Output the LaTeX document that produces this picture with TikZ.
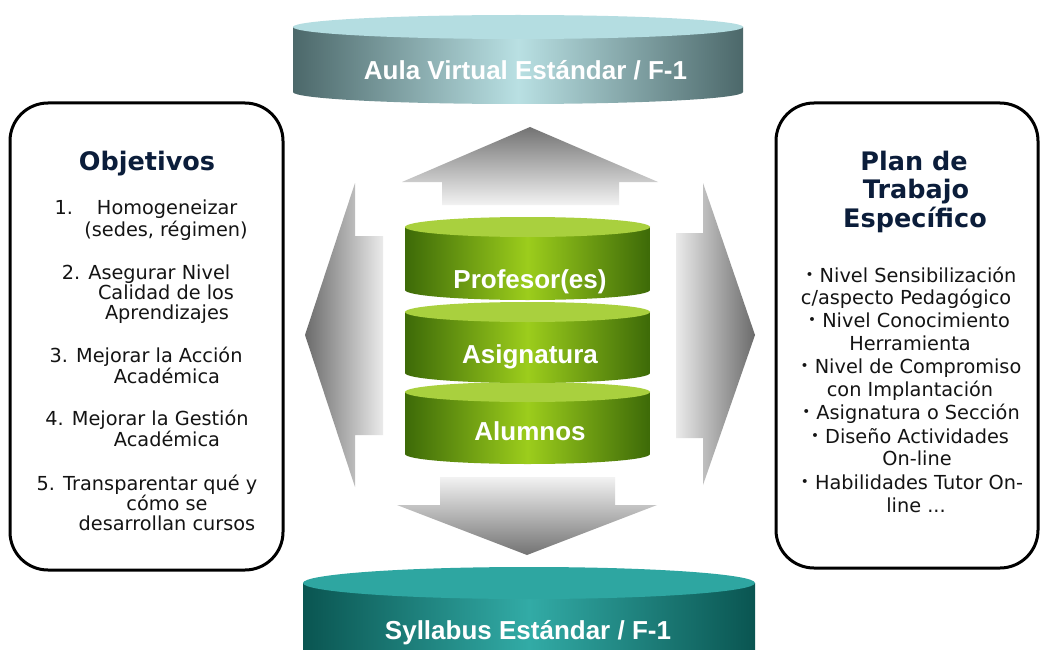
\documentclass[tikz,border=0pt]{standalone}
\usepackage{fontspec}
\usepackage{graphicx}
\setmainfont{DejaVu Sans}
\newfontfamily\drumfont{Liberation Sans}

\definecolor{aulaEdge}{HTML}{4C686A}
\definecolor{aulaMid}{HTML}{B9E0E3}
\definecolor{aulaTop}{HTML}{B4DDE1}
\definecolor{sylEdge}{HTML}{0A5551}
\definecolor{sylMid}{HTML}{32ABA6}
\definecolor{sylTop}{HTML}{2EA6A1}
\definecolor{grnEdge}{HTML}{3D6A08}
\definecolor{grnMid}{HTML}{9CCD1C}
\definecolor{grnTop}{HTML}{A9D03E}
\definecolor{navy}{HTML}{0B1D3A}
\definecolor{bodytext}{HTML}{141414}

% cylinder: #1 cx, #2 top-centre y, #3 bottom-centre y, #4 rx, #5 ry, #6 body style, #7 lid style
\newcommand{\drum}[7]{%
  \path[#6] (#1-#4,#2) -- (#1-#4,#3)
     arc[start angle=180,end angle=0,x radius=#4,y radius=#5] -- (#1+#4,#2) -- cycle;
  \path[#7] (#1,#2) ellipse[x radius=#4,y radius=#5];
}
\newcommand{\pbul}{\raisebox{0.25ex}{\scalebox{0.7}{•}}}

\tikzset{
  panel/.style={draw=black, line width=3pt, fill=white, rounded corners=38pt, inner sep=0pt},
  drumlabel/.style={anchor=base, text=white, inner sep=0pt,
     font=\drumfont\bfseries\fontsize{26}{26}\selectfont},
  headline/.style={anchor=base, text=navy, inner sep=0pt,
     font=\bfseries\fontsize{25.5}{25.5}\selectfont},
  listline/.style={anchor=base, text=bodytext, inner sep=0pt,
     font=\fontsize{19.3}{19.3}\selectfont},
}

\begin{document}
\begin{tikzpicture}[x=1pt,y=-1pt]
\useasboundingbox[fill=white] (0,0) rectangle (1041,650);

% four grey block arrows around the centre
\path[top color=black!55, bottom color=black!5]
  (442,205) -- (442,182) -- (402,182) -- (530,127) -- (658,182) -- (619,182) -- (619,205) -- cycle;
\path[top color=black!5, bottom color=black!55]
  (440,477) -- (615,477) -- (615,505) -- (657,505) -- (527,555) -- (397,505) -- (440,505) -- cycle;
\path[left color=black!58, right color=black!8]
  (383,236) -- (355,236) -- (355,183) -- (305,335) -- (355,487) -- (355,435) -- (383,435) -- cycle;
\path[left color=black!8, right color=black!58]
  (676,233) -- (703,233) -- (703,183) -- (755,335) -- (703,485) -- (703,438) -- (676,438) -- cycle;

% green stack, drawn from the bottom up
\drum{527.5}{392}{454}{122.5}{10}{left color=grnEdge, right color=grnEdge, middle color=grnMid}{fill=grnTop}
\drum{527.5}{312}{373}{122.5}{10}{left color=grnEdge, right color=grnEdge, middle color=grnMid}{fill=grnTop}
\drum{527.5}{227}{290}{122.5}{10}{left color=grnEdge, right color=grnEdge, middle color=grnMid}{fill=grnTop}
\node[drumlabel] (prof) at (530,288) {Profesor(es)};
\node[drumlabel] (asig) at (530,363) {Asignatura};
\node[drumlabel] (alum) at (530,440) {Alumnos};

% top and bottom discs
\drum{518}{27}{92}{225}{12}{left color=aulaEdge, right color=aulaEdge, middle color=aulaMid}{fill=aulaTop}
\node[drumlabel] (aula) at (525.5,80) {Aula Virtual Estándar / F-1};
\drum{529}{583}{668}{226}{16}{left color=sylEdge, right color=sylEdge, middle color=sylMid}{fill=sylTop}
\node[drumlabel] (syl) at (528,639) {Syllabus Estándar / F-1};

% side panels
\node[panel, minimum width=273pt, minimum height=467pt] (objbox) at (146.5,336.5) {};
\node[panel, minimum width=262pt, minimum height=465pt] (planbox) at (907,335.5) {};

\node[headline] (objt) at (147,170) {Objetivos};
\node[listline] (o1a) at (146,214) {1.\hspace{24pt}Homogeneizar};
\node[listline] (o1b) at (166,236) {(sedes, régimen)};
\node[listline] (o2a) at (146,279) {2. Asegurar Nivel};
\node[listline] (o2b) at (166,299) {Calidad de los};
\node[listline] (o2c) at (167,319) {Aprendizajes};
\node[listline] (o3a) at (146,362) {3. Mejorar la Acción};
\node[listline] (o3b) at (167,383) {Académica};
\node[listline] (o4a) at (147,425) {4. Mejorar la Gestión};
\node[listline] (o4b) at (167,446) {Académica};
\node[listline] (o5a) at (147,490) {5. Transparentar qué y};
\node[listline] (o5b) at (167,510) {cómo se};
\node[listline] (o5c) at (167,530) {desarrollan cursos};

\node[headline] (pt1) at (914,170) {Plan de};
\node[headline] (pt2) at (916,198.5) {Trabajo};
\node[headline] (pt3) at (915,227) {Específico};
\node[listline] (p1a) at (911,282) {\pbul\ Nivel Sensibilización};
\node[listline] (p1b) at (906,304) {c/aspecto Pedagógico};
\node[listline] (p2a) at (909,327) {\pbul\ Nivel Conocimiento};
\node[listline] (p2b) at (910,350) {Herramienta};
\node[listline] (p3a) at (911,373) {\pbul\ Nivel de Compromiso};
\node[listline] (p3b) at (910,396) {con Implantación};
\node[listline] (p4a) at (911,419) {\pbul\ Asignatura o Sección};
\node[listline] (p5a) at (910,443) {\pbul\ Diseño Actividades};
\node[listline] (p5b) at (917,465) {On-line};
\node[listline] (p6a) at (912,489) {\pbul\ Habilidades Tutor On-};
\node[listline] (p6b) at (916,512) {line ...};
\end{tikzpicture}
\end{document}
